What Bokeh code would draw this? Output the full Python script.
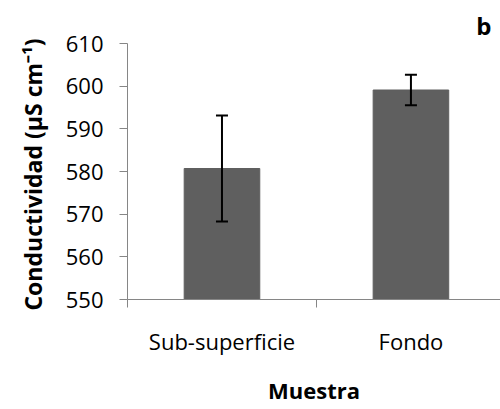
from bokeh.plotting import figure
from bokeh.models import (ColumnDataSource, Range1d, FixedTicker, Whisker, TeeHead, Title)
from bokeh.embed import file_html
from bokeh.resources import INLINE

categories = ["Sub-superficie", "Fondo"]
values = [580.7, 599.1]
errors = [12.4, 3.6]
y_ticks = [550, 560, 570, 580, 590, 600, 610]
panel_letter = "b"

xpos = [i + 0.5 for i in range(len(categories))]
src = ColumnDataSource(dict(
    x=xpos, top=values,
    upper=[v + e for v, e in zip(values, errors)],
    lower=[v - e for v, e in zip(values, errors)],
))

FONT = "Open Sans"
AXC = "#868686"

p = figure(width=500, height=409, output_backend="svg", toolbar_location=None,
           x_range=Range1d(0, 1.974), y_range=Range1d(550, 610),
           min_border_left=127, min_border_right=0, min_border_top=43,
           min_border_bottom=110)
p.outline_line_color = None
p.grid.grid_line_color = None
p.background_fill_color = "white"

p.vbar(x="x", top="top", bottom=550, width=0.4, source=src,
       fill_color="#5f5f5f", line_color="#5f5f5f")

w = Whisker(base="x", upper="upper", lower="lower", source=src,
            line_color="black", line_width=2, level="overlay",
            upper_head=TeeHead(size=12, line_color="black", line_width=2),
            lower_head=TeeHead(size=12, line_color="black", line_width=2))
p.add_layout(w)

# y axis
ya = p.yaxis[0]
ya.ticker = FixedTicker(ticks=y_ticks, minor_ticks=[])
ya.axis_line_color = AXC
ya.major_tick_line_color = AXC
ya.major_tick_out = 8
ya.major_tick_in = 0
ya.minor_tick_line_color = None
ya.major_label_text_font = FONT
ya.major_label_text_font_size = "22px"
ya.major_label_text_color = "black"
ya.major_label_standoff = 16
ya.axis_label = "Conductividad  (µS cm⁻¹)"
ya.axis_label_text_font = FONT
ya.axis_label_text_font_style = "bold"
ya.axis_label_text_font_size = "23px"
ya.axis_label_text_color = "black"
ya.axis_label_standoff = 14

# x axis
xa = p.xaxis[0]
xa.ticker = FixedTicker(ticks=xpos, minor_ticks=[0, 1, 2])
xa.major_label_overrides = {xv: c for xv, c in zip(xpos, categories)}
xa.axis_line_color = AXC
xa.major_tick_line_color = None
xa.major_tick_out = 0
xa.major_tick_in = 0
xa.minor_tick_line_color = AXC
xa.minor_tick_out = 8
xa.minor_tick_in = 0
xa.major_label_text_font = FONT
xa.major_label_text_font_size = "22px"
xa.major_label_text_color = "black"
xa.major_label_standoff = 18
xa.axis_label = "Muestra"
xa.axis_label_text_font = FONT
xa.axis_label_text_font_style = "bold"
xa.axis_label_text_font_size = "22px"
xa.axis_label_text_color = "black"
xa.axis_label_standoff = 16

t = Title(text=panel_letter, align="right", text_font=FONT, text_font_style="bold",
          text_font_size="24px", text_color="black", offset=9, standoff=0,
          vertical_align="top")
p.add_layout(t, "above")

open("out.html", "w").write(file_html(p, INLINE))
